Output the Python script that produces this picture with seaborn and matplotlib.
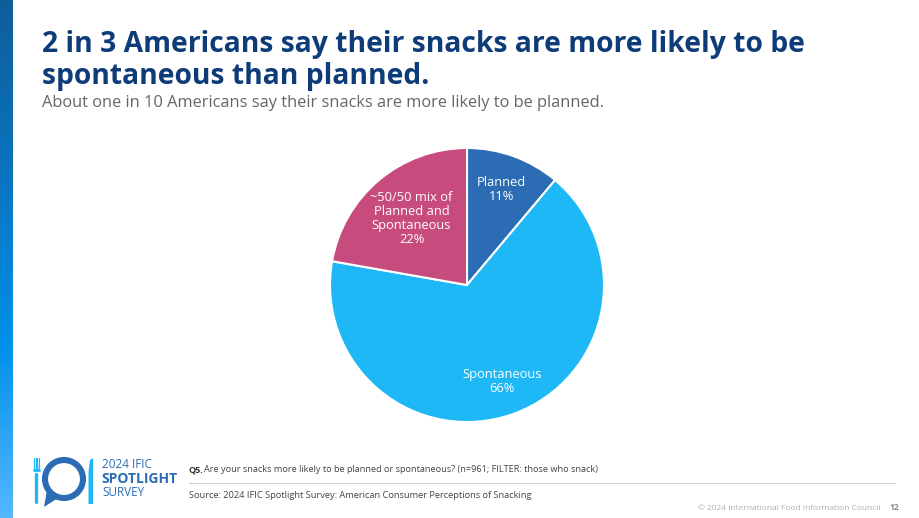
import matplotlib.pyplot as plt
import matplotlib.patches as mpatches
import numpy as np
import seaborn as sns

# 数据
categories = ["Planned", "Spontaneous", "~50/50 mix of\nPlanned and\nSpontaneous"]
values = [11, 66, 22]
colors = ["#2B6CB5", "#1EB8F7", "#C84B7D"]
label_dist = [0.74, 0.75, 0.63]

title = "2 in 3 Americans say their snacks are more likely to be\nspontaneous than planned."
subtitle = "About one in 10 Americans say their snacks are more likely to be planned."
question = "Are your snacks more likely to be planned or spontaneous? (n=961; FILTER: those who snack)"
source = "Source: 2024 IFIC Spotlight Survey: American Consumer Perceptions of Snacking"
copyright_txt = "© 2024 International Food Information Council"

sns.set_theme(style="white")
plt.rcParams["font.family"] = ["Open Sans", "DejaVu Sans"]

W, H = 920, 518
fig = plt.figure(figsize=(W / 100, H / 100), dpi=100)
fig.patch.set_facecolor("white")

# 左侧渐变条
bar_ax = fig.add_axes([0, 0, 13 / W, 1])
grad = np.linspace(0, 1, 256).reshape(-1, 1)
cmap = sns.blend_palette(["#0F5E9B", "#0A74BF", "#0090EA", "#55B8FF"], as_cmap=True)
bar_ax.imshow(grad, aspect="auto", cmap=cmap, extent=[0, 1, 0, 1], origin="upper")
bar_ax.axis("off")

# 标题
fig.text(42 / W, 1 - 30 / H, title, fontsize=20.3, fontweight="bold", color="#0D3C78",
         va="top", ha="left", linespacing=1.12)
fig.text(42 / W, 1 - 103 / H, subtitle, fontsize=11.8, color="#666666", va="center", ha="left")

# 饼图
cx, cy, r = 467, 285, 137
ax = fig.add_axes([(cx - r) / W, (H - cy - r) / H, 2 * r / W, 2 * r / H])
wedges, _, autotexts = ax.pie(
    values,
    colors=colors,
    startangle=90,
    counterclock=False,
    autopct="%1.0f%%",
    pctdistance=1.0,
    wedgeprops=dict(edgecolor="white", linewidth=1.5),
)
for t, c, v, d in zip(autotexts, categories, values, label_dist):
    x, y = t.get_position()
    t.set_position((x * d, y * d))
    t.set_text(f"{c}\n{v}%")
    t.set_color("white")
    t.set_fontsize(9.3)
    t.set_linespacing(1.1)
ax.set_xlim(-1, 1)
ax.set_ylim(-1, 1)
ax.set_aspect("equal")

# 页脚
fig.text(189 / W, 1 - 470 / H, "Q5.", fontsize=6.6, fontweight="bold", color="#333333", va="center")
fig.text(204 / W, 1 - 470 / H, question, fontsize=6.6, color="#444444", va="center")
fig.add_artist(plt.Line2D([189 / W, 895 / W], [1 - 483 / H, 1 - 483 / H], color="#D0D0D0", lw=0.8))
fig.text(189 / W, 1 - 495 / H, source, fontsize=6.7, color="#444444", va="center")
fig.text(880 / W, 1 - 508 / H, copyright_txt, fontsize=6.0, color="#B0B0B0", va="center", ha="right")
fig.text(889 / W, 1 - 508 / H, "12", fontsize=6.0, fontweight="bold", color="#888888", va="center")

# 标志
logo = fig.add_axes([0, 0, 1, 1], facecolor="none")
logo.set_xlim(0, W)
logo.set_ylim(H, 0)
logo.axis("off")
logo.add_patch(mpatches.Circle((64, 479), 19, fill=False, lw=4.4, ec="#2B6CB5"))
logo.add_patch(mpatches.Polygon([[47, 490], [44, 507], [58, 498]], closed=True, fc="#2B6CB5", ec="none"))
# 叉子
logo.plot([36.5, 36.5], [474, 502], color="#1EB8F7", lw=2.4, solid_capstyle="round")
for fx in [34, 35.7, 37.3, 39]:
    logo.plot([fx, fx], [458, 470], color="#1EB8F7", lw=0.9)
logo.plot([34, 39], [470, 470], color="#1EB8F7", lw=2.0, solid_capstyle="round")
# 刀
logo.add_patch(mpatches.Polygon([[88.5, 504], [88.5, 472], [90, 460], [93, 458], [93, 504]],
                                closed=True, fc="#1EB8F7", ec="none"))
fig.text(102 / W, 1 - 465 / H, "2024 IFIC", fontsize=8.5, color="#2B6CB5", va="center")
fig.text(101 / W, 1 - 479 / H, "SPOTLIGHT", fontsize=10, fontweight="bold", color="#2B6CB5", va="center")
fig.text(102 / W, 1 - 493 / H, "SURVEY", fontsize=8.5, color="#2B6CB5", va="center")

fig.savefig("out.png", dpi=100)
